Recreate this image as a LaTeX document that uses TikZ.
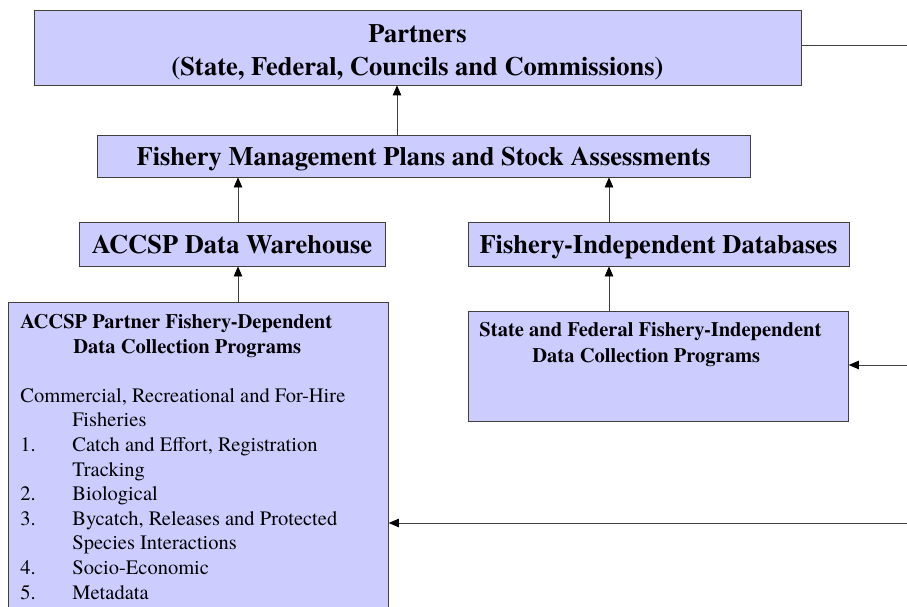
\documentclass[tikz,border=0pt]{standalone}
\usepackage{fontspec}
\setmainfont{texgyretermes}[Extension=.otf, UprightFont=*-regular, BoldFont=*-bold,
  ItalicFont=*-italic, BoldItalicFont=*-bolditalic]
\usetikzlibrary{arrows.meta}
\definecolor{cajafondo}{RGB}{204,204,255}
\definecolor{gristrazo}{RGB}{64,64,64}
\begin{document}
\begin{tikzpicture}[x=1pt,y=-1pt,
    caja/.style={draw=gristrazo, line width=0.8pt, fill=cajafondo, inner sep=0pt},
    titulo/.style={font=\fontsize{26.5}{33}\selectfont\bfseries, text height=23pt, text depth=4pt},
    flecha/.style={draw=gristrazo, line width=0.8pt, -{Triangle[length=10pt,width=8.5pt,color=black]}},
    linea/.style={draw=gristrazo, line width=0.8pt}]
    \useasboundingbox (0,0) rectangle (907,607);
    \clip (0,0) rectangle (907,607);

    % Socios
    \node[caja, minimum width=767pt, minimum height=75pt, align=center,
      font=\fontsize{26.5}{33}\selectfont\bfseries] (socios) at (417.5,47.5)
      {\rule{0pt}{27pt}Partners\\(State, Federal, Councils and Commissions)};

    % Planes de manejo
    \node[caja, titulo, text height=24pt, text depth=4.5pt,
      minimum width=653pt, minimum height=42pt] (planes) at (423.5,156)
      {Fishery Management Plans and Stock Assessments};

    % Almacen de datos y bases independientes
    \node[caja, titulo, minimum width=306pt, minimum height=44pt] (almacen) at (232,244)
      {ACCSP Data Warehouse};
    \node[caja, titulo, minimum width=381pt, minimum height=44pt] (bases) at (658.5,244)
      {Fishery-Independent Databases};

    % Programas dependientes de la pesqueria
    \node[caja, anchor=north west, inner xsep=12pt, inner ysep=12pt,
      font=\fontsize{20.5}{24.6}\selectfont] (dependiente) at (8,302)
      {\parbox[t][320pt][t]{356pt}{%
        \textbf{ACCSP Partner Fishery-Dependent}\\
        \hspace*{53pt}\textbf{Data Collection Programs}\\
        \mbox{}\\
        Commercial, Recreational and For-Hire\\
        \hspace*{52pt}Fisheries\\
        \makebox[52pt][l]{1.}Catch and Effort, Registration\\
        \hspace*{52pt}Tracking\\
        \makebox[52pt][l]{2.}Biological\\
        \makebox[52pt][l]{3.}Bycatch, Releases and Protected\\
        \hspace*{52pt}Species Interactions\\
        \makebox[52pt][l]{4.}Socio-Economic\\
        \makebox[52pt][l]{5.}Metadata}};

    % Programas independientes
    \node[caja, anchor=north west, inner xsep=11pt, inner ysep=11pt,
      font=\fontsize{20.5}{26}\selectfont\bfseries] (independiente) at (468,311)
      {\parbox[t][88pt][t]{358pt}{%
        State and Federal Fishery-Independent\\
        \hspace*{53pt}Data Collection Programs}};

    % Ejes de las flechas
    \coordinate (ejeA) at (238,0);
    \coordinate (ejeB) at (609,0);
    \coordinate (ejeC) at (397,0);
    \coordinate (bordeA) at (907,45);
    \coordinate (bordeB) at (907,365);
    \coordinate (bordeC) at (907,523);

    % Flechas verticales
    \draw[flecha] (planes.north -| ejeC) -- (socios.south -| ejeC);
    \draw[flecha] (almacen.north -| ejeA) -- (planes.south -| ejeA);
    \draw[flecha] (bases.north -| ejeB) -- (planes.south -| ejeB);
    \draw[flecha] (dependiente.north -| ejeA) -- (almacen.south -| ejeA);
    \draw[flecha] (independiente.north -| ejeB) -- (bases.south -| ejeB);

    % Lineas desde el borde derecho
    \draw[linea] (socios.east |- bordeA) -- (bordeA);
    \draw[flecha] (bordeB) -- (independiente.east |- bordeB);
    \draw[flecha] (bordeC) -- (dependiente.east |- bordeC);
\end{tikzpicture}
\end{document}
